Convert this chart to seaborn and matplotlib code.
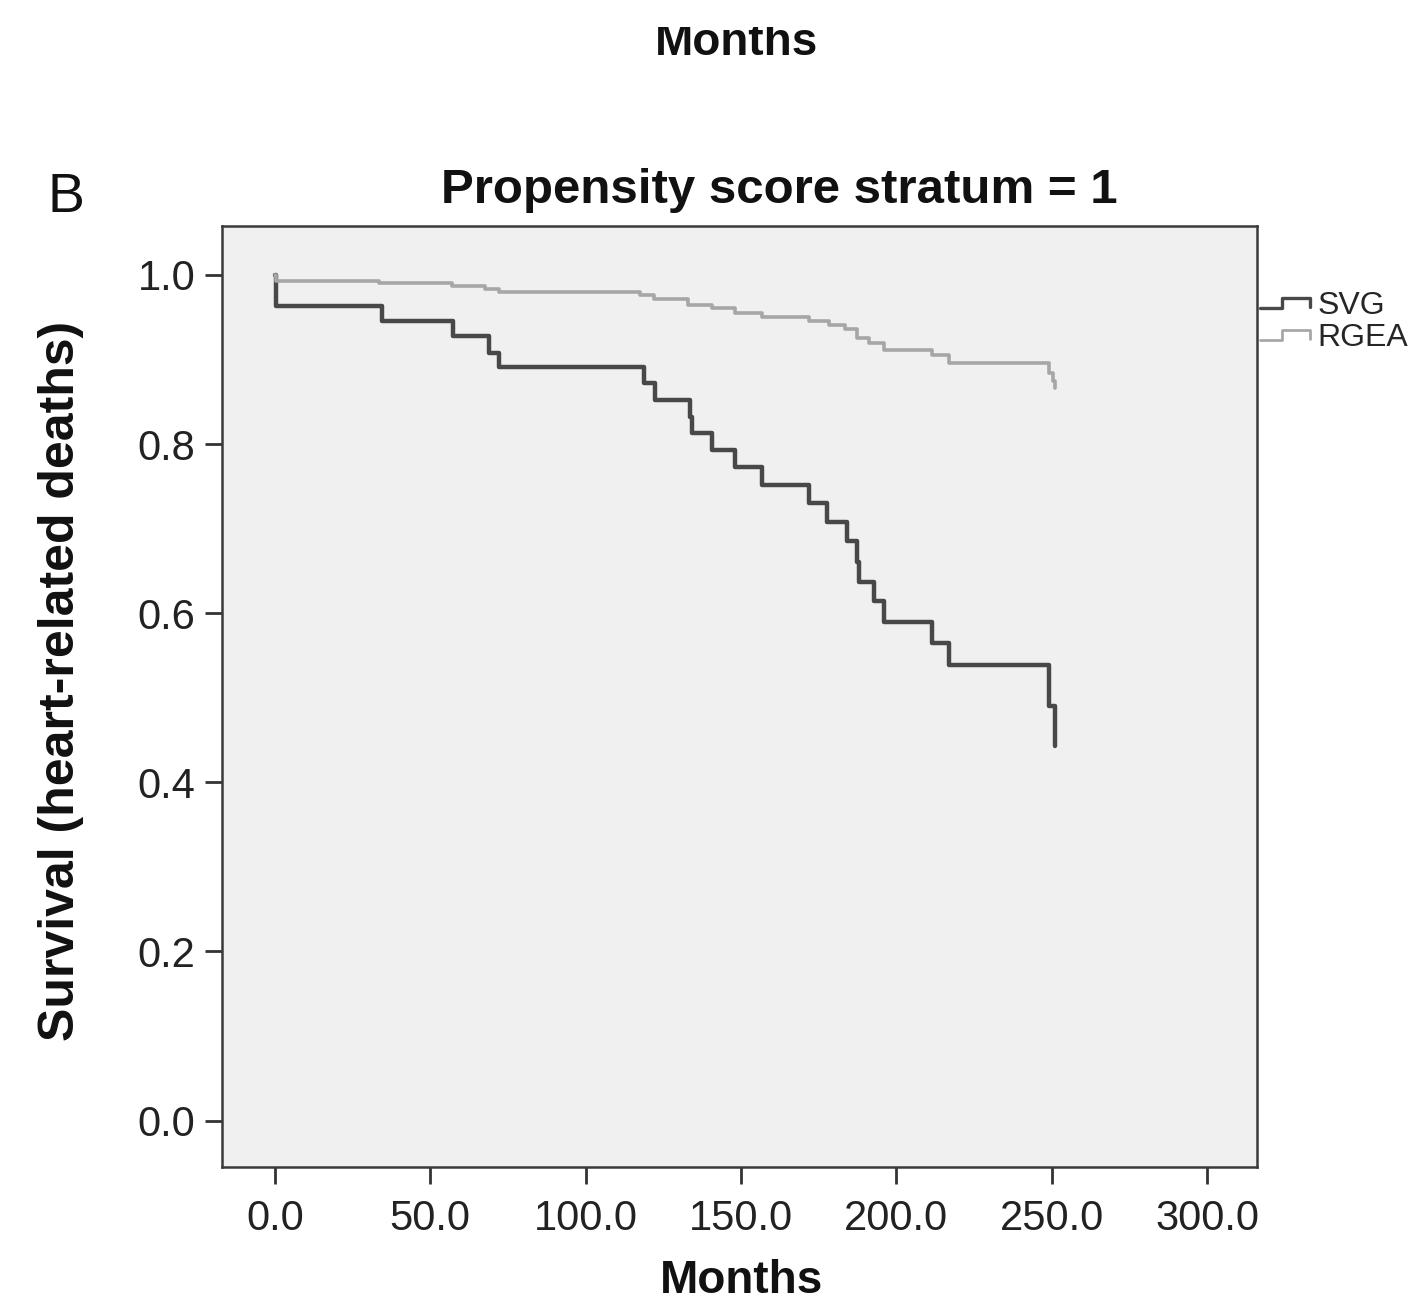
import numpy as np
import pandas as pd
import matplotlib
matplotlib.use("Agg")
import matplotlib.pyplot as plt
import seaborn as sns
from matplotlib.lines import Line2D
from matplotlib.legend_handler import HandlerBase
from matplotlib.transforms import Bbox, TransformedBbox

# Kaplan-Meier step data (months, survival after each event)
svg_months = [0, 0.5, 34.4, 57.5, 68.8, 72.0, 118.7, 122.5, 133.7, 134.2, 140.6,
              148.2, 156.7, 171.8, 177.7, 184.1, 187.2, 188.0, 192.7, 195.9,
              211.5, 216.8, 249.0, 251.1]
svg_surv = [1.0, 0.963, 0.946, 0.928, 0.908, 0.891, 0.872, 0.852, 0.832, 0.813,
            0.793, 0.773, 0.752, 0.730, 0.708, 0.685, 0.661, 0.637, 0.614, 0.590,
            0.565, 0.539, 0.490, 0.443]

rgea_months = [0, 0.5, 33.4, 57.0, 67.6, 72.0, 117.6, 122.0, 133.0, 140.6, 148.0,
               156.7, 171.8, 178.2, 183.6, 187.3, 191.1, 195.9, 211.5, 216.8,
               249.0, 250.5, 251.2]
rgea_surv = [1.0, 0.993, 0.990, 0.987, 0.983, 0.980, 0.976, 0.972, 0.965, 0.961,
             0.955, 0.950, 0.946, 0.941, 0.936, 0.925, 0.919, 0.911, 0.905, 0.896,
             0.884, 0.875, 0.866]

groups = ["SVG", "RGEA"]
colors = {"SVG": "#484848", "RGEA": "#a6a6a6"}
widths = {"SVG": 3.2, "RGEA": 2.6}

x_ticks = [0, 50, 100, 150, 200, 250, 300]
y_ticks = [0.0, 0.2, 0.4, 0.6, 0.8, 1.0]

df = pd.concat([
    pd.DataFrame({"Months": svg_months, "Survival": svg_surv, "Graft": "SVG"}),
    pd.DataFrame({"Months": rgea_months, "Survival": rgea_surv, "Graft": "RGEA"}),
])

sns.set_style("white")
plt.rcParams['font.family'] = ['Liberation Sans', 'DejaVu Sans']


class StepHandler(HandlerBase):
    # little step-shaped legend key like SPSS draws
    def create_artists(self, legend, orig_handle, xdescent, ydescent,
                       width, height, fontsize, trans):
        xs = np.array([0, 0.45, 0.45, 1, 1]) * width - xdescent
        ys = np.array([0.25, 0.25, 0.7, 0.7, 0.3]) * height - ydescent
        ln = Line2D(xs, ys, color=orig_handle.get_color(),
                    lw=orig_handle.get_linewidth() * 0.75)
        ln.set_transform(trans)
        return [ln]


fig = plt.figure(figsize=(14.1, 13.06), dpi=100)
ax = fig.add_axes([0.1574, 0.1064, 0.7340, 0.7206])
ax.set_facecolor("#f0f0f0")

for g in groups:
    sns.lineplot(data=df[df["Graft"] == g], x="Months", y="Survival",
                 estimator=None, errorbar=None, drawstyle="steps-post",
                 color=colors[g], linewidth=widths[g], ax=ax, legend=False)

ax.set_xlim(-17, 316)
ax.set_ylim(-0.055, 1.058)
ax.set_xticks(x_ticks)
ax.set_xticklabels([f"{t:.1f}" for t in x_ticks])
ax.set_yticks(y_ticks)
ax.set_yticklabels([f"{t:.1f}" for t in y_ticks])
ax.tick_params(axis="both", labelsize=30, colors="#333333", labelcolor="#222222",
               length=12, width=2, direction="out")
ax.tick_params(axis="x", pad=11)
ax.tick_params(axis="y", pad=7)
ax.tick_params(top=False, right=False, left=True, bottom=True)
for s in ax.spines.values():
    s.set_color("#3a3a3a")
    s.set_linewidth(1.8)

ax.set_xlabel("Months", fontsize=33, fontweight="bold", color="#111111")
ax.xaxis.set_label_coords(0.502, -0.098)
ax.set_ylabel("Survival (heart-related deaths)", fontsize=36,
              fontweight="bold", color="#111111")
ax.yaxis.set_label_coords(-0.133, 0.517)

fig.text(0.553, 0.8446, "Propensity score stratum = 1", fontsize=35.5,
         fontweight="bold", ha="center", va="baseline", color="#111111")
fig.text(0.034, 0.8377, "B", fontsize=40, ha="left", va="baseline",
         color="#111111")

# label of the panel above, cut off by the top edge
top = fig.text(0.5223, 0.9579, "Months", fontsize=33, fontweight="bold",
               ha="center", va="baseline", color="#111111")
top.set_clip_box(TransformedBbox(Bbox([[0, 0], [1, 1 - 27 / 1306]]),
                                 fig.transFigure))
top.set_clip_on(True)

handles = [Line2D([], [], color=colors[g], lw=widths[g]) for g in groups]
fig.legend(handles, groups, loc="upper left",
           bbox_to_anchor=(1260 / 1410, 1 - 291 / 1306),
           fontsize=23, frameon=False, handlelength=1.55, handletextpad=0.25,
           labelspacing=0.05, borderpad=0, borderaxespad=0,
           handler_map={Line2D: StepHandler()})

fig.savefig("out.png", dpi=100, facecolor="white")
